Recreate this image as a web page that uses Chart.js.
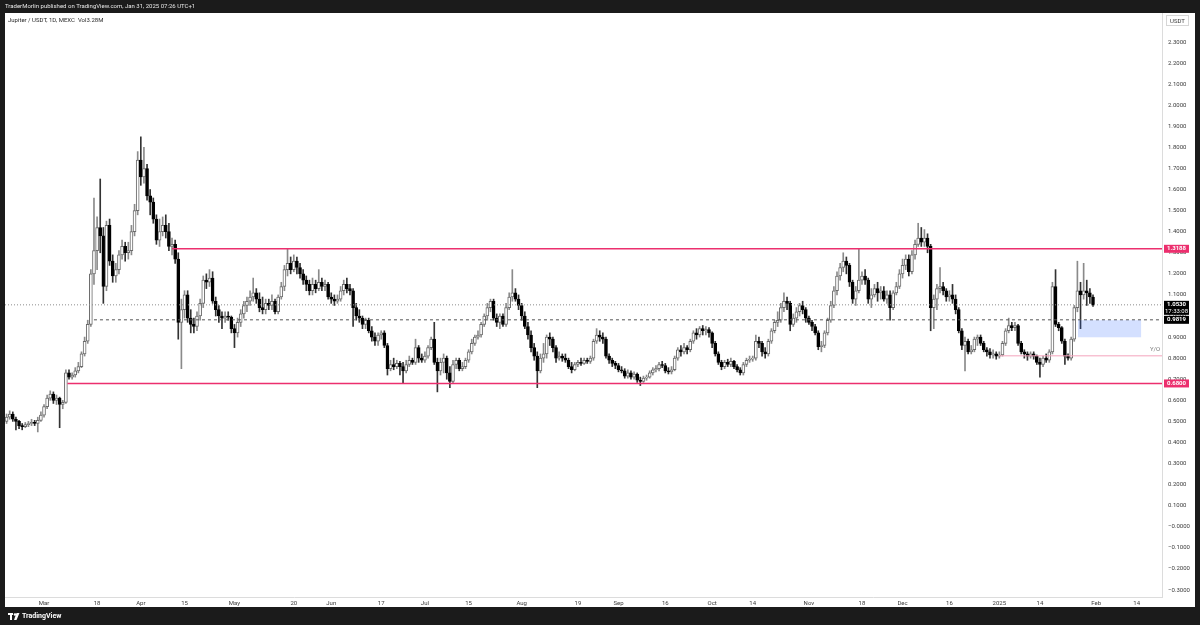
<!DOCTYPE html>
<html>
<head>
<meta charset="utf-8">
<title>Jupiter / USDT 1D</title>
<script src="https://cdn.jsdelivr.net/npm/chart.js@4.4.1/dist/chart.umd.min.js"></script>
<style>
  html, body { margin: 0; padding: 0; background: #1b1b1b; }
  canvas { display: block; }
</style>
</head>
<body>
<canvas id="chartJup" width="1200" height="625"></canvas>
<script>
// daily candles, the first one is Feb 18 2024 (day -12, counting from Mar 1 2024)
const firstDay = -12;

const open = [
  .50,.52,.535,.51,.50,.48,.475,.485,.49,.495,
  .49,.505,.53,.57,.61,.63,.60,.61,.58,.59,
  .73,.71,.72,.74,.76,.82,.88,.96,1.20,1.31,
  1.42,1.38,1.14,1.43,1.26,1.19,1.22,1.29,1.33,1.30,
  1.31,1.40,1.50,1.74,1.66,1.70,1.57,1.54,1.46,1.36,
  1.40,1.43,1.40,1.33,1.34,1.27,.97,1.03,1.10,.99,
  .96,.95,1.00,1.06,1.17,1.16,1.18,1.07,1.03,1.00,
  .99,1.00,.995,.94,.92,.97,1.01,1.05,1.07,1.09,
  1.11,1.08,1.04,1.03,1.06,1.05,1.07,1.02,1.09,1.14,
  1.22,1.25,1.22,1.26,1.23,1.20,1.17,1.15,1.12,1.15,
  1.13,1.16,1.14,1.15,1.09,1.08,1.07,1.08,1.12,1.15,
  1.13,1.12,1.04,1.00,.99,.96,.98,.93,.90,.88,
  .91,.92,.86,.75,.77,.76,.775,.76,.74,.77,
  .79,.78,.85,.80,.79,.81,.85,.89,.78,.74,
  .78,.80,.73,.69,.77,.79,.75,.76,.79,.83,
  .87,.90,.91,.96,1.00,1.04,1.07,.99,.97,1.00,
  .96,1.04,1.09,1.11,1.08,1.05,1.00,.95,.91,.85,
  .81,.74,.80,.82,.90,.89,.85,.80,.81,.80,
  .79,.76,.745,.77,.78,.775,.79,.785,.80,.88,
  .91,.90,.89,.81,.79,.775,.765,.745,.74,.715,
  .73,.71,.725,.695,.69,.705,.71,.73,.745,.75,
  .77,.765,.74,.735,.745,.80,.84,.83,.85,.84,
  .88,.92,.91,.94,.93,.935,.92,.87,.82,.78,
  .76,.78,.77,.785,.76,.745,.73,.77,.79,.795,
  .80,.88,.87,.83,.82,.88,.93,.97,.98,1.04,
  1.07,1.06,.96,.99,1.02,1.05,1.03,.99,.97,.95,
  .92,.855,.86,.92,.98,1.05,1.12,1.19,1.23,1.26,
  1.24,1.16,1.08,1.12,1.17,1.19,1.17,1.08,1.10,1.13,
  1.11,1.12,1.08,1.10,1.04,1.11,1.14,1.20,1.24,1.27,
  1.21,1.29,1.34,1.37,1.35,1.37,1.33,1.04,1.08,1.13,
  1.14,1.12,1.09,1.10,1.08,1.03,.93,.86,.88,.83,
  .84,.89,.90,.87,.84,.83,.815,.82,.81,.815,
  .87,.93,.955,.945,.955,.87,.83,.82,.81,.82,
  .81,.78,.77,.80,.79,.83,1.14,.96,.945,.88,
  .81,.80,.89,1.04,1.12,1.10,1.12,1.11,1.09
];
const high = [
  .535,.55,.545,.52,.505,.49,.495,.50,.51,.505,
  .52,.545,.58,.625,.645,.64,.625,.615,.60,.745,
  .745,.73,.755,.78,.83,.90,.98,1.22,1.56,1.47,
  1.65,1.42,1.45,1.46,1.29,1.25,1.31,1.36,1.35,1.35,
  1.43,1.53,1.78,1.85,1.80,1.72,1.60,1.56,1.48,1.46,
  1.47,1.48,1.44,1.37,1.36,1.30,1.08,1.12,1.12,1.03,
  .99,1.02,1.08,1.19,1.20,1.22,1.21,1.09,1.05,1.02,
  1.02,1.02,1.00,.96,.99,1.03,1.07,1.09,1.12,1.18,
  1.13,1.11,1.09,1.08,1.08,1.10,1.08,1.10,1.16,1.24,
  1.32,1.28,1.29,1.28,1.25,1.22,1.19,1.17,1.18,1.17,
  1.22,1.18,1.17,1.16,1.11,1.10,1.10,1.14,1.17,1.18,
  1.15,1.13,1.06,1.03,1.00,.99,.99,.95,.92,.92,
  .93,.93,.87,.79,.80,.79,.785,.78,.79,.81,
  .80,.89,.86,.82,.83,.86,.90,.97,.80,.80,
  .82,.81,.76,.79,.80,.80,.78,.80,.84,.89,
  .91,.93,.97,1.01,1.06,1.08,1.08,1.01,1.01,1.01,
  1.06,1.11,1.22,1.13,1.10,1.06,1.02,.97,.93,.87,
  .83,.82,.87,.91,.92,.90,.86,.83,.82,.82,
  .80,.78,.78,.79,.80,.80,.80,.81,.89,.94,
  .93,.92,.90,.82,.80,.785,.775,.76,.75,.745,
  .74,.735,.73,.71,.715,.72,.74,.755,.765,.78,
  .785,.775,.755,.76,.81,.85,.86,.87,.86,.89,
  .93,.94,.95,.955,.95,.945,.925,.88,.83,.79,
  .79,.795,.80,.79,.77,.755,.78,.80,.81,.81,
  .91,.90,.88,.85,.89,.94,.98,1.02,1.06,1.11,
  1.09,1.07,1.01,1.04,1.06,1.07,1.04,1.00,.98,.96,
  .93,.88,.93,.99,1.07,1.14,1.21,1.25,1.30,1.28,
  1.25,1.17,1.14,1.32,1.21,1.22,1.18,1.13,1.15,1.16,
  1.14,1.14,1.12,1.12,1.12,1.16,1.22,1.27,1.29,1.29,
  1.31,1.36,1.44,1.42,1.41,1.39,1.34,1.10,1.15,1.23,
  1.16,1.13,1.12,1.15,1.10,1.04,.94,.90,.89,.86,
  .90,.91,.91,.88,.85,.845,.84,.83,.83,.88,
  .94,.99,.97,.97,.96,.88,.84,.83,.83,.83,
  .815,.80,.81,.82,.84,1.16,1.22,.97,.95,.89,
  .82,.90,1.05,1.26,1.16,1.25,1.17,1.13,1.10
];
const low = [
  .49,.51,.50,.46,.465,.46,.47,.475,.48,.48,
  .45,.50,.52,.56,.60,.585,.58,.47,.56,.585,
  .70,.70,.71,.73,.755,.81,.87,.95,1.15,1.22,
  1.30,1.06,1.12,1.24,1.16,1.16,1.20,1.27,1.26,1.27,
  1.29,1.38,1.48,1.62,1.63,1.55,1.48,1.44,1.34,1.33,
  1.38,1.37,1.31,1.29,1.25,.89,.75,.99,.97,.92,
  .92,.93,.98,1.04,1.13,1.14,1.06,1.00,.97,.94,
  .97,.98,.92,.85,.90,.95,.99,1.02,1.05,1.07,
  1.06,1.02,1.01,1.01,1.03,1.03,1.01,1.01,1.08,1.12,
  1.19,1.20,1.21,1.20,1.18,1.15,1.12,1.10,1.10,1.11,
  1.12,1.12,1.12,1.08,1.06,1.05,1.06,1.07,1.10,1.11,
  1.10,.95,.98,.97,.94,.94,.92,.88,.86,.86,
  .89,.85,.72,.74,.745,.75,.72,.68,.73,.76,
  .77,.77,.78,.78,.78,.80,.84,.77,.64,.72,
  .73,.70,.66,.68,.75,.74,.74,.75,.78,.82,
  .86,.89,.90,.95,.98,1.02,.98,.95,.94,.95,
  .95,1.03,1.07,1.07,1.03,.98,.94,.89,.83,.79,
  .66,.73,.78,.80,.86,.83,.78,.79,.785,.78,
  .75,.73,.74,.76,.765,.77,.775,.775,.79,.87,
  .88,.87,.80,.775,.76,.75,.735,.73,.705,.705,
  .70,.70,.685,.67,.685,.695,.705,.72,.735,.74,
  .755,.73,.725,.725,.74,.79,.81,.82,.82,.83,
  .87,.89,.90,.91,.91,.90,.85,.81,.77,.745,
  .75,.76,.76,.75,.735,.72,.72,.76,.78,.785,
  .79,.85,.81,.80,.81,.87,.92,.95,.97,1.02,
  1.03,.93,.95,.97,1.00,1.01,.97,.96,.93,.91,
  .84,.83,.85,.91,.97,1.04,1.10,1.17,1.21,1.20,
  1.14,1.06,1.05,1.11,1.15,1.15,1.06,1.04,1.09,1.07,
  1.08,1.07,1.06,.98,1.03,1.10,1.13,1.18,1.22,1.19,
  1.20,1.27,1.33,1.33,1.33,1.30,.93,.94,1.03,1.11,
  1.10,1.07,1.07,1.06,1.01,.92,.84,.74,.82,.82,
  .83,.86,.86,.83,.81,.80,.80,.795,.80,.81,
  .86,.92,.93,.93,.86,.82,.80,.79,.80,.795,
  .77,.71,.76,.78,.78,.82,.95,.93,.87,.77,
  .79,.79,.88,1.02,.94,1.08,1.05,1.06,1.045
];
const close = [
  .52,.535,.51,.50,.48,.475,.485,.49,.495,.49,
  .505,.53,.57,.61,.63,.60,.61,.58,.59,.73,
  .71,.72,.74,.76,.82,.88,.96,1.20,1.31,1.42,
  1.38,1.14,1.43,1.26,1.19,1.22,1.29,1.33,1.30,1.31,
  1.40,1.50,1.74,1.66,1.70,1.57,1.54,1.46,1.36,1.40,
  1.43,1.40,1.33,1.34,1.27,.97,1.03,1.10,.99,.96,
  .95,1.00,1.06,1.17,1.16,1.18,1.07,1.03,1.00,.99,
  1.00,.995,.94,.92,.97,1.01,1.05,1.07,1.09,1.11,
  1.08,1.04,1.03,1.06,1.05,1.07,1.02,1.09,1.14,1.22,
  1.25,1.22,1.26,1.23,1.20,1.17,1.15,1.12,1.15,1.13,
  1.16,1.14,1.15,1.09,1.08,1.07,1.08,1.12,1.15,1.13,
  1.12,1.04,1.00,.99,.96,.98,.93,.90,.88,.91,
  .92,.86,.75,.77,.76,.775,.76,.74,.77,.79,
  .78,.85,.80,.79,.81,.85,.89,.78,.74,.78,
  .80,.73,.69,.77,.79,.75,.76,.79,.83,.87,
  .90,.91,.96,1.00,1.04,1.07,.99,.97,1.00,.96,
  1.04,1.09,1.11,1.08,1.05,1.00,.95,.91,.85,.81,
  .74,.80,.82,.90,.89,.85,.80,.81,.80,.79,
  .76,.745,.77,.78,.775,.79,.785,.80,.88,.91,
  .90,.89,.81,.79,.775,.765,.745,.74,.715,.73,
  .71,.725,.695,.69,.705,.71,.73,.745,.75,.77,
  .765,.74,.735,.745,.80,.84,.83,.85,.84,.88,
  .92,.91,.94,.93,.935,.92,.87,.82,.78,.76,
  .78,.77,.785,.76,.745,.73,.77,.79,.795,.80,
  .88,.87,.83,.82,.88,.93,.97,.98,1.04,1.07,
  1.06,.96,.99,1.02,1.05,1.03,.99,.97,.95,.92,
  .855,.86,.92,.98,1.05,1.12,1.19,1.23,1.26,1.24,
  1.16,1.08,1.12,1.17,1.19,1.17,1.08,1.10,1.13,1.11,
  1.12,1.08,1.10,1.04,1.11,1.14,1.20,1.24,1.27,1.21,
  1.29,1.34,1.37,1.35,1.37,1.33,1.04,1.08,1.13,1.14,
  1.12,1.09,1.10,1.08,1.03,.93,.86,.88,.83,.84,
  .89,.90,.87,.84,.83,.815,.82,.81,.815,.87,
  .93,.955,.945,.955,.87,.83,.82,.81,.82,.81,
  .78,.77,.80,.79,.83,1.14,.96,.945,.88,.81,
  .80,.89,1.04,1.12,1.10,1.12,1.11,1.09,1.053
];

// time axis (days from Mar 1 2024) and price axis
const xTickDays = [0, 17, 31, 45, 61, 80, 92, 108, 122, 136, 153, 171, 184, 199, 214, 227, 245, 262, 275, 290, 306, 319, 337, 350];
const xTickLabels = ['Mar', '18', 'Apr', '15', 'May', '20', 'Jun', '17', 'Jul', '15', 'Aug', '19', 'Sep', '16', 'Oct', '14', 'Nov', '18', 'Dec', '16', '2025', '14', 'Feb', '14'];
const yTickValues = [2.3, 2.2, 2.1, 2.0, 1.9, 1.8, 1.7, 1.6, 1.5, 1.4, 1.3, 1.2, 1.1, 1.0, 0.9, 0.8, 0.7, 0.6, 0.5, 0.4, 0.3, 0.2, 0.1, 0, -0.1, -0.2, -0.3];
const yTickLabels = ['2.3000', '2.2000', '2.1000', '2.0000', '1.9000', '1.8000', '1.7000', '1.6000', '1.5000', '1.4000', '1.3000', '1.2000', '1.1000', '1.0000', '0.9000', '0.8000', '0.7000', '0.6000', '0.5000', '0.4000', '0.3000', '0.2000', '0.1000', '\u22120.0000', '\u22120.1000', '\u22120.2000', '\u22120.3000'];

// drawings
const xMin = -12.5, xMax = 358.1;
const rangeHigh = 1.3188, rangeHighFrom = 41;
const rangeLow = 0.68, rangeLowFrom = 7.5;
const lastPrice = 1.053;
const dashLevel = 0.9819, dashFrom = 16;
const yearOpen = 0.811, yearOpenFrom = 306;
const zoneDays = [331.2, 351.4];
const zonePrices = [0.899, 0.980];

const PINK = '#ec2f6e';
const FONT = 'Roboto, "Liberation Sans", sans-serif';

const bodies = [], wicks = [], bodyFill = [], bodyLine = [], wickColor = [];
for (let i = 0; i < close.length; i++) {
  const up = close[i] >= open[i];
  bodies.push({ x: firstDay + i, y: [open[i], close[i]] });
  wicks.push({ x: firstDay + i, y: [low[i], high[i]] });
  bodyFill.push(up ? '#ffffff' : '#000000');
  bodyLine.push(up ? '#6b6b6b' : '#000000');
  wickColor.push(up ? '#8a8a8a' : '#333333');
}

function hLine(y, from, color, width, dash) {
  return {
    type: 'line',
    data: [{ x: from, y: y }, { x: xMax, y: y }],
    borderColor: color,
    borderWidth: width,
    borderDash: dash,
    pointRadius: 0,
    order: 0
  };
}

const framePlugin = {
  id: 'frame',
  beforeDraw(chart) {
    const ctx = chart.ctx;
    ctx.save();
    ctx.fillStyle = '#1b1b1b';
    ctx.fillRect(0, 0, 1200, 625);
    ctx.fillStyle = '#ffffff';
    ctx.fillRect(5, 13, 1190, 594);
    ctx.restore();
  },
  afterDatasetsDraw(chart) {
    // highlighted zone
    const { ctx, scales: { x, y } } = chart;
    const x0 = x.getPixelForValue(zoneDays[0]), x1 = x.getPixelForValue(zoneDays[1]);
    const y0 = y.getPixelForValue(zonePrices[1]), y1 = y.getPixelForValue(zonePrices[0]);
    ctx.save();
    ctx.fillStyle = 'rgba(41, 98, 255, 0.2)';
    ctx.fillRect(x0, y0, x1 - x0, y1 - y0);
    ctx.restore();
  },
  afterDraw(chart) {
    const { ctx, scales: { y } } = chart;
    ctx.save();
    ctx.textBaseline = 'middle';

    // header
    ctx.fillStyle = '#e6e6e6';
    ctx.font = '6px ' + FONT;
    ctx.textAlign = 'left';
    ctx.fillText('TraderMorlin published on TradingView.com, Jan 31, 2025 07:26 UTC+1', 5, 6.5);
    ctx.fillStyle = '#2a2a2a';
    ctx.fillText('Jupiter / USDT, 1D, MEXC  Vol3.28M', 8, 20);

    // currency box
    ctx.strokeStyle = '#d6d6d6';
    ctx.lineWidth = 1;
    ctx.strokeRect(1166.5, 15.5, 22, 10);
    ctx.fillStyle = '#3a3a3a';
    ctx.textAlign = 'center';
    ctx.fillText('USDT', 1177.5, 21);

    // yearly open tag
    ctx.fillStyle = '#777';
    ctx.fillText('Y/O', 1155, y.getPixelForValue(yearOpen) - 6);

    // price badges
    const badge = (value, bg, h, lines) => {
      const cy = y.getPixelForValue(value);
      ctx.fillStyle = bg;
      ctx.fillRect(1164, cy - 4, 25, h);
      ctx.fillStyle = '#ffffff';
      ctx.font = 'bold 6px ' + FONT;
      ctx.textAlign = 'center';
      lines.forEach((t, k) => {
        if (k > 0) ctx.font = '6px ' + FONT;
        ctx.fillText(t, 1176.5, cy + k * 6.5);
      });
    };
    badge(rangeHigh, PINK, 8, ['1.3188']);
    badge(lastPrice, '#000000', 14, ['1.0530', '17:33:08']);
    badge(dashLevel, '#000000', 8, ['0.9819']);
    badge(rangeLow, PINK, 8, ['0.6800']);

    // bottom logo
    ctx.fillStyle = '#ffffff';
    ctx.fillRect(8, 613, 5, 2);
    ctx.fillRect(10, 613, 2, 7);
    ctx.beginPath();
    ctx.arc(15, 614.5, 1.3, 0, Math.PI * 2);
    ctx.fill();
    ctx.beginPath();
    ctx.moveTo(16.5, 613);
    ctx.lineTo(19.5, 613);
    ctx.lineTo(16.5, 620);
    ctx.lineTo(14, 620);
    ctx.closePath();
    ctx.fill();
    ctx.font = 'bold 7px ' + FONT;
    ctx.textAlign = 'left';
    ctx.fillText('TradingView', 22, 616.5);
    ctx.restore();
  }
};

new Chart(document.getElementById('chartJup'), {
  type: 'bar',
  data: {
    datasets: [
      hLine(rangeHigh, rangeHighFrom, PINK, 1.5, []),
      hLine(rangeLow, rangeLowFrom, PINK, 1.5, []),
      hLine(lastPrice, xMin, '#8c8c8c', 1, [1, 2]),
      hLine(dashLevel, dashFrom, '#555555', 1, [3, 3]),
      hLine(yearOpen, yearOpenFrom, '#f4a3bd', 1, []),
      {
        label: 'bodies',
        data: bodies,
        backgroundColor: bodyFill,
        borderColor: bodyLine,
        borderWidth: 1,
        borderSkipped: false,
        barThickness: 3,
        grouped: false,
        order: 1
      },
      {
        label: 'wicks',
        data: wicks,
        backgroundColor: wickColor,
        borderWidth: 0,
        barThickness: 1,
        grouped: false,
        order: 2
      }
    ]
  },
  options: {
    responsive: false,
    devicePixelRatio: 1,
    animation: false,
    layout: { padding: { left: 5, right: 5, top: 13, bottom: 18 } },
    plugins: { legend: { display: false }, tooltip: { enabled: false } },
    scales: {
      x: {
        type: 'linear',
        min: xMin,
        max: xMax,
        offset: false,
        grid: { display: false, drawTicks: false },
        border: { display: true, color: '#dcdcdc' },
        afterBuildTicks: (s) => { s.ticks = xTickDays.map(v => ({ value: v })); },
        afterFit: (s) => { s.height = 10; },
        ticks: {
          autoSkip: false,
          maxRotation: 0,
          padding: 3,
          color: '#3a3a3a',
          font: { size: 6, family: FONT },
          callback: (v, i) => xTickLabels[i]
        }
      },
      y: {
        position: 'right',
        min: -0.3332,
        max: 2.4376,
        grid: { display: false, drawTicks: false },
        border: { display: true, color: '#dcdcdc' },
        afterBuildTicks: (s) => { s.ticks = yTickValues.map(v => ({ value: v })); },
        afterFit: (s) => { s.width = 33; },
        ticks: {
          autoSkip: false,
          padding: 6,
          color: '#3a3a3a',
          font: { size: 6, family: FONT },
          callback: (v, i) => yTickLabels[i]
        }
      }
    }
  },
  plugins: [framePlugin]
});
</script>
</body>
</html>
